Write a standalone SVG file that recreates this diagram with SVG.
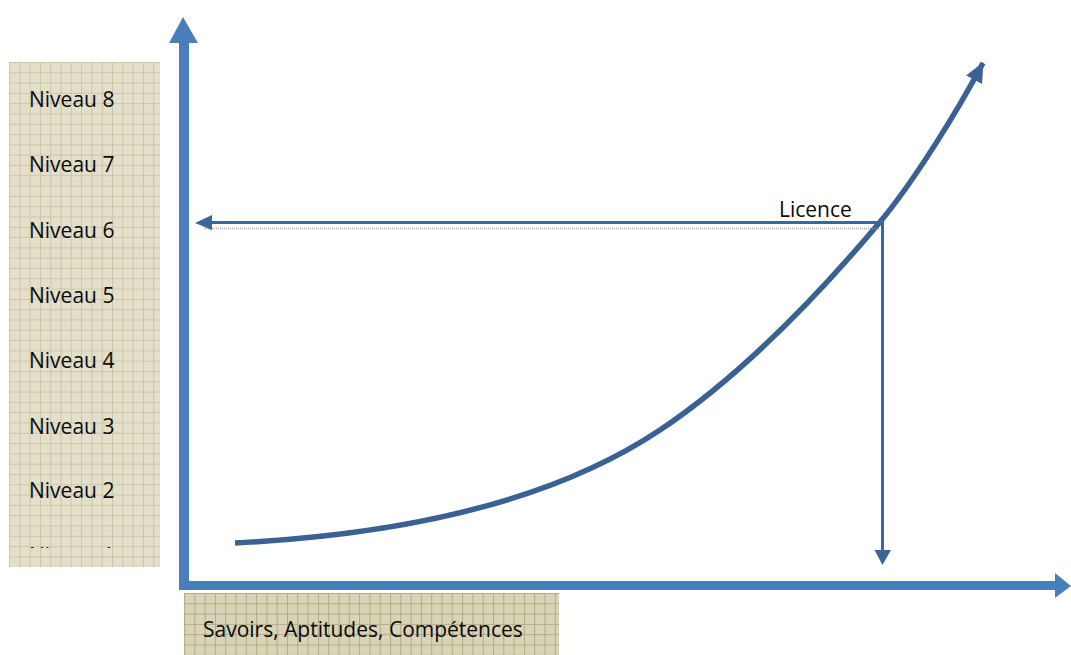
<svg xmlns="http://www.w3.org/2000/svg" width="1071" height="655" viewBox="0 0 1071 655">
  <defs>
    <pattern id="gridLight" x="9" y="62" width="10.3" height="10.3" patternUnits="userSpaceOnUse">
      <rect width="10.3" height="10.3" fill="#e3dfcb"/>
      <path d="M0 0.5H10.3M0.5 0V10.3" stroke="#cbc6a6" stroke-width="1"/>
    </pattern>
    <pattern id="gridDark" x="184" y="593" width="10.3" height="10.3" patternUnits="userSpaceOnUse">
      <rect width="10.3" height="10.3" fill="#d9d3b8"/>
      <path d="M0 0.5H10.3M0.5 0V10.3" stroke="#b3ab84" stroke-width="1"/>
    </pattern>
    <clipPath id="levelClip">
      <rect x="9" y="540" width="151" height="8"/>
    </clipPath>
    <marker id="headCurve" viewBox="0 0 20 18" refX="19" refY="9" markerWidth="20" markerHeight="18" markerUnits="userSpaceOnUse" orient="auto">
      <path d="M0 0L20 9L0 18z" fill="#3a6193"/>
    </marker>
  </defs>
  <style>
    .label { font-family: "Open Sans", "Noto Sans", "Liberation Sans", sans-serif; font-size: 21px; fill: #0a0a0a; }
    .axis { fill: #4a7ebb; }
    .guide { stroke: #3b6699; stroke-width: 3; fill: none; }
    .guide-head { fill: #3b6699; }
    .shadow { stroke: #9a9a9a; stroke-width: 2; stroke-dasharray: 1 1; fill: none; opacity: 0.7; }
  </style>

  <!-- level scale -->
  <g id="levels">
    <rect x="9" y="62" width="151" height="505" fill="url(#gridLight)"/>
    <text class="label" x="29" y="107">Niveau 8</text>
    <text class="label" x="29" y="172">Niveau 7</text>
    <text class="label" x="29" y="237.5">Niveau 6</text>
    <text class="label" x="29" y="303">Niveau 5</text>
    <text class="label" x="29" y="368">Niveau 4</text>
    <text class="label" x="29" y="433.5">Niveau 3</text>
    <text class="label" x="29" y="498">Niveau 2</text>
    <text class="label" x="29" y="562.5" clip-path="url(#levelClip)">Niveau 1</text>
  </g>

  <!-- horizontal axis caption -->
  <g id="x-caption">
    <rect x="184" y="593" width="375" height="62" fill="url(#gridDark)"/>
    <text class="label" x="203" y="637">Savoirs, Aptitudes, Compétences</text>
  </g>

  <!-- axes -->
  <g id="axes">
    <rect class="axis" x="179" y="42" width="10" height="548"/>
    <path class="axis" d="M183 17L198 43H169z"/>
    <rect class="axis" x="179" y="581" width="877" height="9"/>
    <path class="axis" d="M1071 586L1055 573V598z"/>
  </g>

  <!-- progression curve -->
  <g id="curve">
    <path d="M235 543C375 536 540 510 660 430C735 380 810 305 880 222C915 180 958 110 983 63" fill="none" stroke="#3a6193" stroke-width="5.5" marker-end="url(#headCurve)"/>
  </g>

  <!-- reading lines from the curve -->
  <g id="connectors">
    <path class="shadow" d="M204 228.5H880"/>
    <path class="guide" d="M208 222.5H882.5V552"/>
    <path class="guide-head" d="M195 223L212 215V230z"/>
    <path class="guide-head" d="M882.5 565L874.5 550H891z"/>
  </g>

  <g id="licence">
    <text class="label" x="779" y="217">Licence</text>
  </g>
</svg>
